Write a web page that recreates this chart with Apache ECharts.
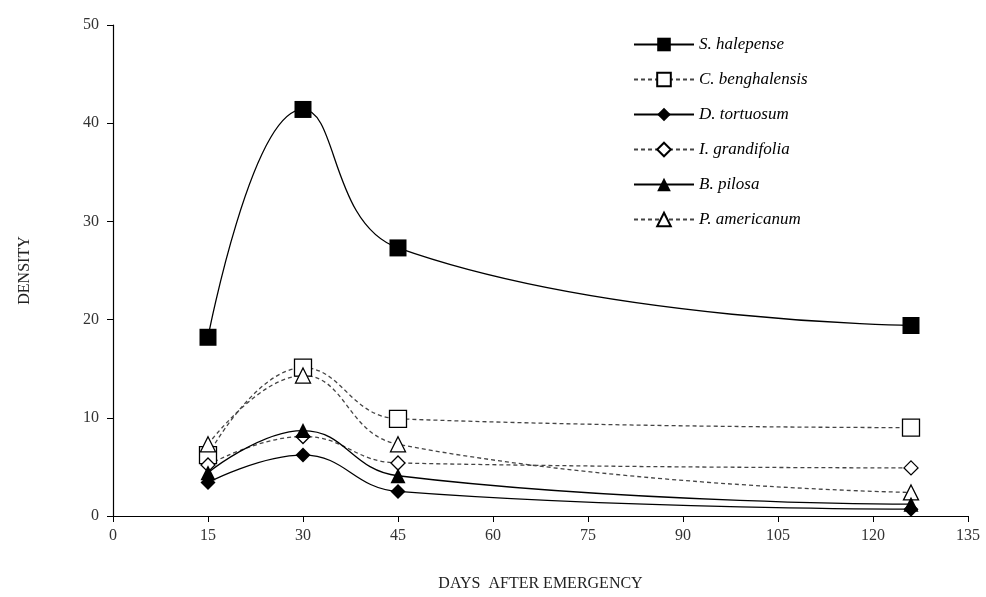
<!DOCTYPE html>
<html><head><meta charset="utf-8">
<script src="https://cdn.jsdelivr.net/npm/echarts@6/dist/echarts.min.js"></script>
<style>html,body{margin:0;padding:0;background:#fff}#c{width:986px;height:597px}</style>
</head><body><div id="c"></div>
<script>
var days = [15, 30, 45, 126];
var seriesNames = ['S. halepense','C. benghalensis','D. tortuosum','I. grandifolia','B. pilosa','P. americanum'];
var sHalepense = [18.2, 41.4, 27.3, 19.4];
var cBenghalensis = [6.2, 15.1, 9.9, 9.0];
var dTortuosum = [3.4, 6.2, 2.5, 0.7];
var iGrandifolia = [5.2, 8.1, 5.4, 4.9];
var bPilosa = [4.4, 8.7, 4.1, 1.2];
var pAmericanum = [7.3, 14.3, 7.3, 2.4];
var xTicks = [0,15,30,45,60,75,90,105,120,135];
var yTicks = [0,10,20,30,40,50];

function pts(v){ return days.map(function(d,i){ return [d, v[i]]; }); }
var font = 'Liberation Serif';
function mk(name, vals, symbol, size, filled, dashed){
  return {
    name: name, type: 'line', data: pts(vals), smooth: 0.45,
    symbol: symbol, symbolSize: size,
    lineStyle: {color: dashed ? '#444' : '#000', width: 1.3, type: dashed ? [4,3] : 'solid'},
    itemStyle: {color: filled ? '#000' : '#fff', borderColor: '#000', borderWidth: filled ? 0 : 1.3},
    emphasis: {disabled: true}, z: filled ? 3 : 2
  };
}
var chart = echarts.init(document.getElementById('c'));
chart.setOption({
  animation: false,
  backgroundColor: '#fff',
  grid: {left: 113, right: 18, top: 25, bottom: 80},
  legend: {
    orient: 'vertical', left: 628, top: 31, itemGap: 18, itemWidth: 60, itemHeight: 17,
    textStyle: {fontFamily: font, fontStyle: 'italic', fontSize: 17, color: '#000'},
    data: seriesNames
  },
  xAxis: {
    type: 'value', min: 0, max: 135, interval: 15,
    name: 'DAYS  AFTER EMERGENCY', nameLocation: 'middle', nameGap: 60,
    nameTextStyle: {fontFamily: font, fontSize: 16, color: '#222'},
    axisLine: {lineStyle: {color: '#000', width: 1.2}},
    axisTick: {show: true, length: 6, lineStyle: {color: '#000'}},
    axisLabel: {fontFamily: font, fontSize: 16, color: '#333', margin: 12,
      formatter: function(v){ return xTicks.indexOf(v) >= 0 ? String(v) : ''; }},
    splitLine: {show: false}
  },
  yAxis: {
    type: 'value', min: 0, max: 50, interval: 10,
    name: 'DENSITY', nameLocation: 'middle', nameGap: 80, nameRotate: 90,
    nameTextStyle: {fontFamily: font, fontSize: 16, color: '#222'},
    axisLine: {show: true, lineStyle: {color: '#000', width: 1.2}},
    axisTick: {show: true, length: 6, lineStyle: {color: '#000'}},
    axisLabel: {fontFamily: font, fontSize: 16, color: '#333', margin: 14,
      formatter: function(v){ return yTicks.indexOf(v) >= 0 ? String(v) : ''; }},
    splitLine: {show: false}
  },
  series: [
    mk(seriesNames[0], sHalepense, 'rect', 17, true, false),
    mk(seriesNames[1], cBenghalensis, 'rect', 17, false, true),
    mk(seriesNames[2], dTortuosum, 'diamond', 15, true, false),
    mk(seriesNames[3], iGrandifolia, 'diamond', 14, false, true),
    mk(seriesNames[4], bPilosa, 'triangle', 15, true, false),
    mk(seriesNames[5], pAmericanum, 'triangle', 15, false, true)
  ]
});
</script></body></html>
